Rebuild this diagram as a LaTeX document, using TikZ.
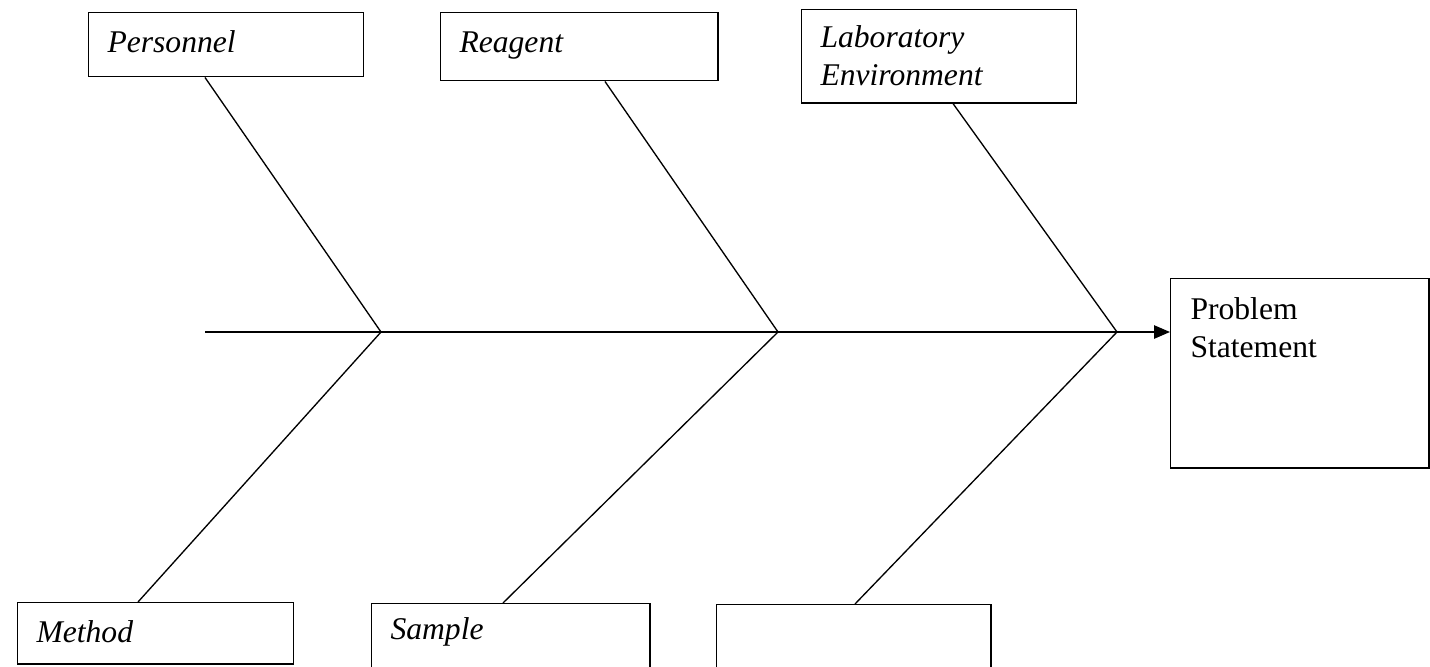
\documentclass[tikz,border=0pt]{standalone}
\usepackage{fontspec}
\setmainfont{Liberation Serif}
\usetikzlibrary{arrows.meta,calc}
\tikzset{
  bone/.style={line width=0.5pt},
  spine/.style={line width=0.65pt, -{Triangle[length=6pt, width=5pt]}},
  causebox/.style={draw, line width=0.55pt, anchor=north west, inner sep=0pt},
  causetext/.style={anchor=base west, inner sep=0pt, align=left,
    font=\fontsize{11.85}{13.9}\selectfont\itshape},
  effecttext/.style={anchor=base west, inner sep=0pt, align=left,
    font=\fontsize{11.85}{14.2}\selectfont},
}
\begin{document}
\begin{tikzpicture}[x=0.375pt, y=-0.375pt]
\clip (0,0) rectangle (1430,666);
%
\node[causebox, minimum width=103.1pt, minimum height=24pt] (personnel) at (88,12) {};
\node[causebox, minimum width=103.9pt, minimum height=25.5pt] (reagent) at (440,12) {};
\node[causebox, minimum width=103.1pt, minimum height=34.9pt] (lab) at (801,9) {};
\node[causebox, minimum width=103.5pt, minimum height=22.9pt] (method) at (17,602) {};
\node[causebox, minimum width=104.3pt, minimum height=26.3pt] (sample) at (371,603) {};
\node[causebox, minimum width=102.8pt, minimum height=26.3pt] (blank) at (716,604) {};
\node[causebox, minimum width=96.8pt, minimum height=70.9pt] (problem) at (1170,278) {};
%
\node[causetext] (personnel-label) at ($(personnel.north west)+(19,40)$) {Personnel};
\node[causetext] (reagent-label) at ($(reagent.north west)+(19,40)$) {Reagent};
\node[causetext] (lab-label) at ($(lab.north west)+(19,76)$) {Laboratory\\Environment};
\node[causetext] (method-label) at ($(method.north west)+(19,40)$) {Method};
\node[causetext] (sample-label) at ($(sample.north west)+(19,36)$) {Sample};
\node[effecttext] (problem-label) at ($(problem.north west)+(20,79)$) {Problem\\Statement};
%
\coordinate (tail) at (205,332);
\coordinate (j1) at (381,332);
\coordinate (j2) at (778,332);
\coordinate (j3) at (1117,332);
%
\draw[spine] (tail) -- (tail -| problem.west);
%
\draw[bone] ($(personnel.south west)+(117,0)$) -- (j1) -- ($(method.north west)+(121,0)$);
\draw[bone] ($(reagent.south west)+(165,0)$) -- (j2) -- ($(sample.north west)+(132,0)$);
\draw[bone] ($(lab.south west)+(152,0)$) -- (j3) -- ($(blank.north west)+(139,0)$);
%
\end{tikzpicture}
\end{document}
